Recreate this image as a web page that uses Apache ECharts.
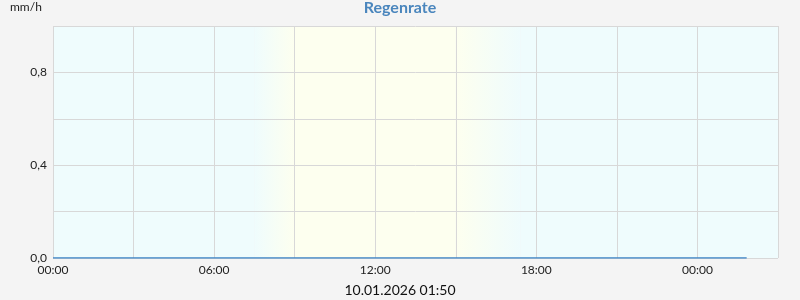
<!DOCTYPE html>
<html>
<head>
<meta charset="utf-8">
<script src="https://cdn.jsdelivr.net/npm/echarts@6/dist/echarts.min.js"></script>
<style>
html,body{margin:0;padding:0;background:#f4f4f4;}
#c{width:800px;height:300px;}
</style>
</head>
<body>
<div id="c"></div>
<script>
// Data (x in hours since 09.01.2026 00:00)
const titleText = 'Regenrate';
const unitText = 'mm/h';
const footerText = '10.01.2026 01:50';
const timesHours = [0,1,2,3,4,5,6,7,8,9,10,11,12,13,14,15,16,17,18,19,20,21,22,23,24,25,25.833];
const rainRate   = [0,0,0,0,0,0,0,0,0,0,0,0,0,0,0,0,0,0,0,0,0,0,0,0,0,0,0];
const xTickLabels = ['00:00','06:00','12:00','18:00','00:00'];
const yTickLabels = ['0,0','0,4','0,8'];
// day/night bands (hours): dawn start, day start, day end, dusk end
const dawnStart = 7.5, dayStart = 9.0, dayEnd = 15.0, duskEnd = 17.4;

const nightColor = '#effcfd';
const dayColor = '#fdffef';

const chart = echarts.init(document.getElementById('c'));
chart.setOption({
  backgroundColor: '#f4f4f4',
  animation: false,
  textStyle: {fontFamily: 'Lato'},
  title: [
    {text: titleText, left: 'center', top: 0, padding: 0,
     textStyle: {color: '#4a86bd', fontSize: 16, fontWeight: 'bold', fontFamily: 'Lato'}},
    {text: unitText, left: 10, top: 1, padding: 0,
     textStyle: {color: '#222', fontSize: 12, fontWeight: 'normal', fontFamily: 'Lato'}},
    {text: footerText, left: 'center', top: 283, padding: 0,
     textStyle: {color: '#111', fontSize: 14, fontWeight: 'normal', fontFamily: 'Lato'}}
  ],
  grid: {left: 53, right: 22, top: 26, bottom: 42, show: false},
  xAxis: {
    type: 'value', min: 0, max: 27, interval: 3, z: 3,
    axisLine: {show: false}, axisTick: {show: false},
    splitLine: {show: true, lineStyle: {color: '#d8d8d8', width: 1}},
    axisLabel: {
      color: '#222', fontSize: 12, margin: 6,
      formatter: function (v) {
        if (v % 6 !== 0) return '';
        return xTickLabels[v / 6] || '';
      }
    }
  },
  yAxis: {
    type: 'value', min: 0, max: 1, interval: 0.2, z: 3,
    axisLine: {show: false}, axisTick: {show: false},
    splitLine: {show: true, lineStyle: {color: '#d8d8d8', width: 1}},
    axisLabel: {
      color: '#222', fontSize: 12, margin: 6,
      formatter: function (v) {
        const i = Math.round(v / 0.4 * 1000) / 1000;
        if (Math.abs(i - Math.round(i)) > 1e-6) return '';
        return yTickLabels[Math.round(i)] || '';
      }
    }
  },
  series: [
    {
      type: 'line', data: [], z: 1, silent: true,
      markArea: {
        silent: true,
        data: [
          [{xAxis: 0, itemStyle: {color: nightColor}}, {xAxis: dawnStart}],
          [{xAxis: dawnStart, itemStyle: {color: {type: 'linear', x: 0, y: 0, x2: 1, y2: 0,
            colorStops: [{offset: 0, color: nightColor}, {offset: 1, color: dayColor}]}}}, {xAxis: dayStart}],
          [{xAxis: dayStart, itemStyle: {color: dayColor}}, {xAxis: dayEnd}],
          [{xAxis: dayEnd, itemStyle: {color: {type: 'linear', x: 0, y: 0, x2: 1, y2: 0,
            colorStops: [{offset: 0, color: dayColor}, {offset: 1, color: nightColor}]}}}, {xAxis: duskEnd}],
          [{xAxis: duskEnd, itemStyle: {color: nightColor}}, {xAxis: 27}]
        ]
      }
    },
    {
      type: 'line', z: 5, showSymbol: false,
      data: timesHours.map((t, i) => [t, rainRate[i]]),
      lineStyle: {color: '#3f85c6', width: 1.5}
    }
  ]
});
</script>
</body>
</html>
